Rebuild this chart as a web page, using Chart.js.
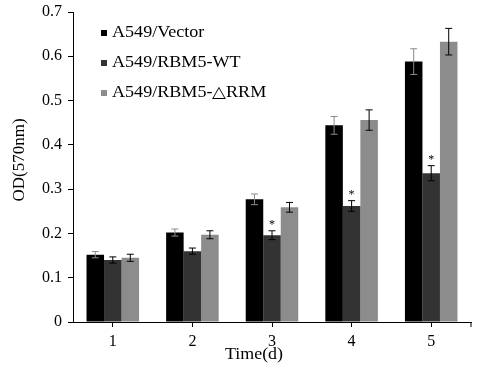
<!DOCTYPE html>
<html><head><meta charset="utf-8">
<script src="https://cdn.jsdelivr.net/npm/chart.js@4/dist/chart.umd.min.js"></script>
<style>html,body{margin:0;padding:0;background:#fff}canvas{display:block}</style>
</head><body>
<canvas id="c" width="482" height="372"></canvas>
<script>
const categories = ['1','2','3','4','5'];
const seriesNames = ['A549/Vector','A549/RBM5-WT','A549/RBM5-\u25B3RRM'];
const vectorVals = [0.152, 0.202, 0.277, 0.444, 0.588];
const wtVals     = [0.140, 0.160, 0.196, 0.262, 0.336];
const drrmVals   = [0.145, 0.197, 0.259, 0.456, 0.633];
const vectorErr  = [0.007, 0.008, 0.012, 0.020, 0.029];
const wtErr      = [0.007, 0.007, 0.010, 0.012, 0.017];
const drrmErr    = [0.008, 0.009, 0.011, 0.023, 0.030];
const wtStars    = [false, false, true, true, true];
const yTicks     = [0, 0.1, 0.2, 0.3, 0.4, 0.5, 0.6, 0.7];

const FONT = '"Liberation Serif", "Times New Roman", serif';
const errs = [vectorErr, wtErr, drrmErr];
const errColors = ['#8a8a8a', '#000', '#000'];

function stretchedText(ctx, text, x, y, sx, align) {
  ctx.save();
  ctx.translate(x, y);
  ctx.scale(sx, 1);
  ctx.textAlign = align;
  ctx.fillText(text, 0, 0);
  ctx.restore();
}

const overlay = {
  id: 'overlay',
  afterDatasetsDraw(chart) {
    const ctx = chart.ctx, y = chart.scales.y, x = chart.scales.x;
    ctx.save();
    chart.data.datasets.forEach((ds, di) => {
      const meta = chart.getDatasetMeta(di);
      meta.data.forEach((bar, i) => {
        const v = ds.data[i], e = errs[di][i];
        const cx = bar.x;
        const yt = y.getPixelForValue(v + e), yb = y.getPixelForValue(v - e);
        ctx.strokeStyle = errColors[di];
        ctx.lineWidth = 1;
        ctx.beginPath();
        ctx.moveTo(cx, yt); ctx.lineTo(cx, yb);
        ctx.moveTo(cx - 3.5, yt); ctx.lineTo(cx + 3.5, yt);
        ctx.moveTo(cx - 3.5, yb); ctx.lineTo(cx + 3.5, yb);
        ctx.stroke();
        if (di === 1 && wtStars[i]) {
          ctx.fillStyle = '#000';
          ctx.font = '12px ' + FONT;
          ctx.textAlign = 'center';
          ctx.textBaseline = 'middle';
          ctx.fillText('*', cx, yt - 6);
        }
      });
    });
    // legend
    ctx.font = '16px ' + FONT;
    ctx.textBaseline = 'middle';
    chart.data.datasets.forEach((ds, di) => {
      const ly = 33 + di * 30;
      ctx.fillStyle = ds.backgroundColor;
      ctx.fillRect(101, ly - 3, 6, 6);
      ctx.fillStyle = '#000';
      stretchedText(ctx, ds.label, 112, ly, 1.13, 'left');
    });
    // axis titles
    ctx.font = '16px ' + FONT;
    stretchedText(ctx, 'Time(d)', 254, 355, 1.12, 'center');
    ctx.save();
    ctx.font = '17px ' + FONT;
    ctx.translate(20, 160);
    ctx.rotate(-Math.PI / 2);
    ctx.textAlign = 'center';
    ctx.fillText('OD(570nm)', 0, 0);
    ctx.restore();
    // end tick on x-axis
    ctx.strokeStyle = '#000';
    ctx.beginPath();
    ctx.moveTo(x.right, x.top); ctx.lineTo(x.right, x.top + 5);
    ctx.stroke();
    ctx.restore();
  }
};

new Chart(document.getElementById('c'), {
  type: 'bar',
  data: {
    labels: categories,
    datasets: [
      { label: seriesNames[0], data: vectorVals, backgroundColor: '#000000' },
      { label: seriesNames[1], data: wtVals, backgroundColor: '#333333' },
      { label: seriesNames[2], data: drrmVals, backgroundColor: '#8c8c8c' }
    ]
  },
  options: {
    responsive: false,
    animation: false,
    devicePixelRatio: 1,
    layout: { padding: { top: 12, right: 11, left: 0, bottom: 0 } },
    datasets: { bar: { categoryPercentage: 0.66, barPercentage: 1.0 } },
    plugins: { legend: { display: false }, tooltip: { enabled: false } },
    scales: {
      x: {
        grid: { display: true, drawOnChartArea: false, drawTicks: true, tickLength: 5, offset: false, color: '#000' },
        border: { display: true, color: '#000', width: 1 },
        ticks: { color: '#000', font: { family: FONT, size: 16 }, padding: 5 },
        afterFit(s) { s.height = 50; s.paddingLeft = 0; s.paddingRight = 0; }
      },
      y: {
        min: 0, max: 0.7,
        afterBuildTicks(s) { s.ticks = yTicks.map(v => ({ value: v })); },
        grid: { display: true, drawOnChartArea: false, drawTicks: true, tickLength: 5, color: '#000' },
        border: { display: true, color: '#000', width: 1 },
        ticks: { color: '#000', font: { family: FONT, size: 16 }, padding: 6,
                 callback: v => String(Math.round(v * 10) / 10) },
        afterFit(s) { s.width = 73; s.paddingTop = 0; s.paddingBottom = 0; }
      }
    }
  },
  plugins: [overlay]
});
</script>
</body></html>
